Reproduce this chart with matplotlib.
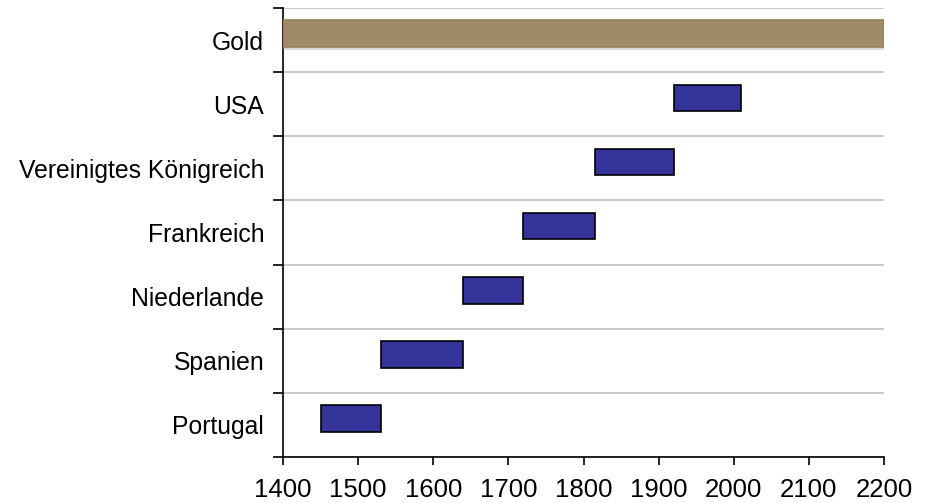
import matplotlib
matplotlib.use("Agg")
import matplotlib.pyplot as plt
import matplotlib.patheffects as pe

plt.rcParams['font.family'] = ['Liberation Sans', 'DejaVu Sans']

laender = ['Portugal', 'Spanien', 'Niederlande', 'Frankreich',
           'Vereinigtes Königreich', 'USA', 'Gold']
beginn = [1450, 1530, 1640, 1720, 1815, 1920, 1400]
ende = [1530, 1640, 1720, 1815, 1920, 2010, 2200]
xticks = [1400, 1500, 1600, 1700, 1800, 1900, 2000, 2100, 2200]

fig = plt.figure(figsize=(9.29, 5.03), dpi=100)
ax = fig.add_axes([0.3046, 0.0915, 0.647, 0.8925])

pos = list(range(len(laender)))
dauer = [e - b for b, e in zip(beginn, ende)]

# Waehrungen in blau, Gold in braun mit Schatten
farben = ['#333399'] * 6 + ['#A08A6A']
kanten = ['#000000'] * 6 + ['#9A7F58']
for i in pos:
    bar = ax.barh(i + 0.1, dauer[i], left=beginn[i], height=0.415,
                  color=farben[i], edgecolor=kanten[i], linewidth=1.2, zorder=3)
    if laender[i] == 'Gold':
        bar[0].set_path_effects([pe.SimplePatchShadow(offset=(0, -2), shadow_rgbFace='#999999', alpha=0.35),
                                 pe.Normal()])

ax.set_xlim(1400, 2200)
ax.set_ylim(-0.5, len(laender) - 0.5)
ax.set_xticks(xticks)
ax.set_yticks(pos)
ax.set_yticklabels(laender)
ax.set_yticks([p - 0.5 for p in pos] + [len(laender) - 0.5], minor=True)

ax.tick_params(axis='y', which='major', length=0, pad=13.5, labelsize=17.8)
ax.tick_params(axis='y', which='minor', length=7, width=1.2, direction='out')
ax.tick_params(axis='x', length=6, width=1.2, direction='out', pad=9, labelsize=18.5)

ax.grid(axis='y', which='minor', color='#c0c0c0', linewidth=1.2, zorder=0)
for s in ['top', 'right']:
    ax.spines[s].set_visible(False)
for s in ['left', 'bottom']:
    ax.spines[s].set_linewidth(1.2)

fig.savefig('out.png', dpi=100)
